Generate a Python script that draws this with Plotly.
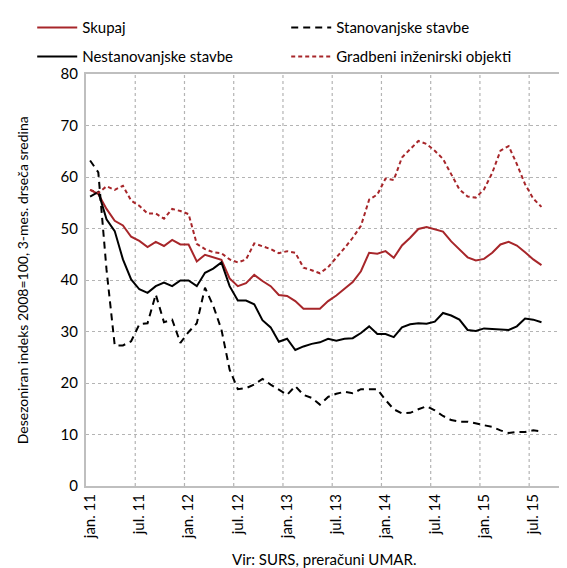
import plotly.graph_objects as go

# monthly index, jan. 2011 = 0 ... avg. 2015 = 55
months = list(range(56))
tick_pos = [0, 6, 12, 18, 24, 30, 36, 42, 48, 54]
tick_text = ["jan. 11", "jul. 11", "jan. 12", "jul. 12", "jan. 13",
             "jul. 13", "jan. 14", "jul. 14", "jan. 15", "jul. 15"]
# gridlines sit between months (Excel-style category axis)
grid_pos = [5.5, 11.5, 17.5, 23.5, 29.5, 35.5, 41.5, 47.5, 53.5]

skupaj = [57.5, 56.7, 53.8, 51.5, 50.6, 48.4, 47.6, 46.4, 47.4, 46.6,
          47.8, 46.9, 46.9, 43.6, 44.9, 44.4, 43.9, 40.3, 38.8, 39.4,
          41.0, 39.8, 38.8, 37.1, 36.9, 35.9, 34.4, 34.4, 34.4, 35.9,
          37.0, 38.3, 39.6, 41.7, 45.3, 45.1, 45.6, 44.3, 46.7, 48.2,
          49.9, 50.3, 49.8, 49.4, 47.5, 45.9, 44.4, 43.8, 44.1, 45.3,
          46.9, 47.4, 46.7, 45.4, 44.0, 42.9]

stanovanjske = [63.2, 60.9, 42.0, 27.3, 27.3, 28.1, 31.4, 31.6, 37.2, 31.8,
                32.3, 27.8, 29.9, 31.6, 38.5, 35.0, 30.4, 22.6, 18.8, 19.0,
                19.7, 20.8, 19.7, 18.7, 17.7, 19.4, 17.7, 17.1, 15.8, 17.3,
                17.9, 18.3, 18.0, 18.8, 18.8, 18.8, 16.7, 14.9, 14.1, 14.2,
                14.9, 15.5, 14.7, 13.6, 12.8, 12.5, 12.5, 12.1, 11.8, 11.5,
                10.8, 10.3, 10.5, 10.5, 10.8, 10.6]

nestanovanjske = [56.2, 57.1, 51.8, 49.5, 44.0, 40.1, 38.2, 37.5, 38.8, 39.5,
                  38.8, 39.9, 39.9, 38.8, 41.4, 42.2, 43.4, 38.8, 36.0, 36.0,
                  35.3, 32.2, 30.8, 28.0, 28.6, 26.4, 27.1, 27.6, 27.9, 28.6,
                  28.2, 28.6, 28.7, 29.7, 31.0, 29.5, 29.5, 28.9, 30.8, 31.4,
                  31.6, 31.5, 31.9, 33.6, 33.1, 32.3, 30.3, 30.1, 30.6, 30.5,
                  30.3, 30.3, 31.0, 32.5, 32.3, 31.8]

gradbeni = [57.5, 56.9, 58.2, 57.5, 58.3, 55.4, 54.4, 52.9, 52.9, 51.9,
            53.8, 53.4, 52.8, 47.0, 46.0, 45.4, 45.2, 44.0, 43.4, 44.0,
            47.1, 46.6, 46.0, 45.2, 45.6, 45.3, 42.4, 41.9, 41.3, 42.5,
            44.3, 46.2, 48.2, 50.5, 55.6, 56.6, 59.7, 59.4, 63.8, 65.4,
            67.0, 66.4, 65.1, 63.5, 60.5, 57.6, 56.2, 56.0, 57.6, 60.8,
            65.1, 66.0, 62.5, 58.6, 55.8, 54.2]

red = "#A7262A"
grid = "#b4b4b4"

fig = go.Figure()
fig.add_trace(go.Scatter(x=months, y=skupaj, name="Skupaj", mode="lines",
                         line=dict(color=red, width=2), legend="legend"))
fig.add_trace(go.Scatter(x=months, y=stanovanjske, name="Stanovanjske stavbe", mode="lines",
                         line=dict(color="black", width=2, dash="7px,5px"), legend="legend"))
fig.add_trace(go.Scatter(x=months, y=nestanovanjske, name="Nestanovanjske stavbe", mode="lines",
                         line=dict(color="black", width=2), legend="legend2"))
fig.add_trace(go.Scatter(x=months, y=gradbeni, name="Gradbeni inženirski objekti", mode="lines",
                         line=dict(color=red, width=2, dash="4px,3px"), legend="legend2"))

# vertical dotted gridlines between the half-year categories
for g in grid_pos:
    fig.add_vline(x=g, line=dict(color=grid, width=1.2, dash="dot"), layer="below")

leg = dict(orientation="h", x=-0.113, xanchor="left", yanchor="middle",
           entrywidth=199, entrywidthmode="pixels", itemwidth=40,
           font=dict(size=15), bgcolor="rgba(0,0,0,0)")

# page body adds an 8px offset, so the figure is 8px smaller than the window
fig.update_layout(
    width=559, height=560,
    margin=dict(l=78, r=5, t=66, b=82, autoexpand=False),
    paper_bgcolor="white", plot_bgcolor="white",
    font=dict(family="Lato, Open Sans, sans-serif", size=15, color="black"),
    showlegend=True,
    legend=dict(leg, y=1.112),
    legend2=dict(leg, y=1.042),
    xaxis=dict(
        range=[-0.5, 57.5], tickmode="array", tickvals=tick_pos, ticktext=tick_text,
        tickangle=-90, showgrid=False, zeroline=False, ticks="",
        showline=True, linecolor="#bfbfbf", linewidth=2, mirror=True,
    ),
    yaxis=dict(
        range=[0, 80], dtick=10, showgrid=True, gridcolor=grid, griddash="dot",
        gridwidth=1.2, zeroline=False, showline=True, linecolor="#bfbfbf", linewidth=2,
        mirror=True, ticks="", ticklabelstandoff=3,
    ),
    annotations=[
        dict(text="Vir: SURS, preračuni UMAR.", xref="paper", yref="paper",
             x=0.5, y=-0.176, xanchor="center", yanchor="middle",
             showarrow=False, font=dict(size=15)),
        dict(text="Desezoniran indeks 2008=100, 3-mes. drseča sredina",
             xref="paper", yref="paper", x=-0.134, y=0.5, textangle=-90,
             xanchor="center", yanchor="middle", showarrow=False, font=dict(size=14)),
    ],
)

fig.write_html("out.html")
